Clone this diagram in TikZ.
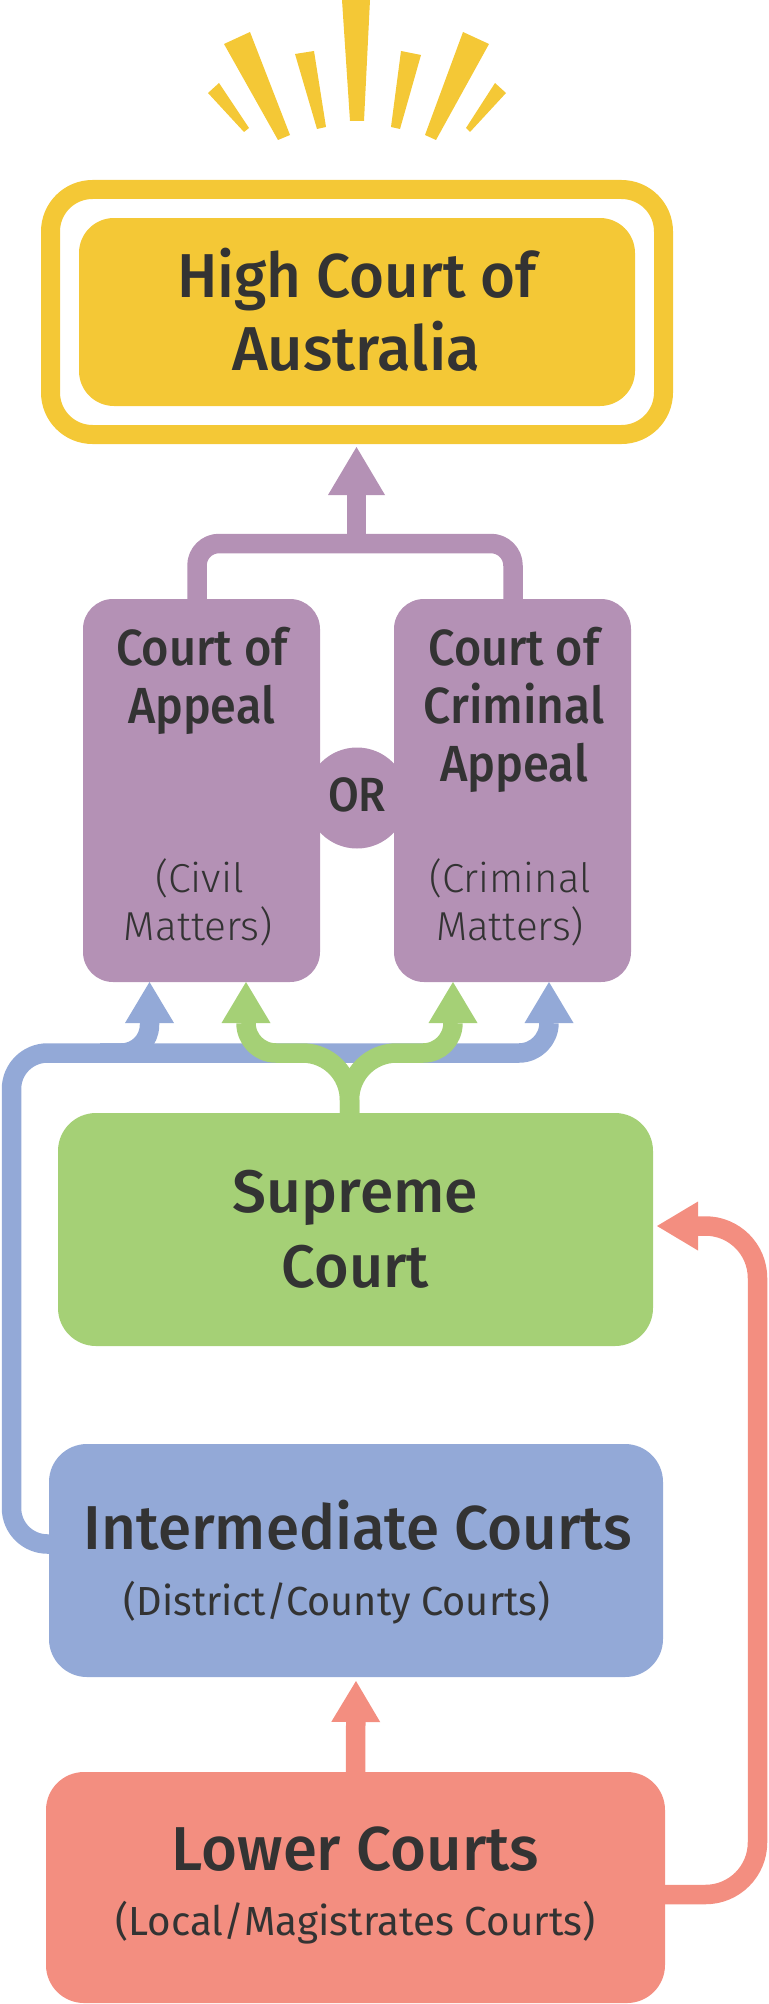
\documentclass[tikz,border=0pt]{standalone}
\usepackage{fontspec}
\usepackage{graphicx}
\setmainfont{Fira Sans}
\IfFontExistsTF{Fira Sans Medium}{\newfontfamily\medfont{Fira Sans Medium}}{\newcommand\medfont{\bfseries}}
\IfFontExistsTF{Fira Sans Light}{\newfontfamily\litefont{Fira Sans Light}}{\newcommand\litefont{\mdseries}}
\usetikzlibrary{arrows.meta,calc,fit}
\definecolor{cyel}{RGB}{244,200,54}
\definecolor{cpur}{RGB}{180,145,181}
\definecolor{cblu}{RGB}{147,169,215}
\definecolor{cgrn}{RGB}{165,208,118}
\definecolor{cred}{RGB}{243,142,128}
\definecolor{ink}{RGB}{51,51,51}
% stretch a text to a given width, keep its height
\newcommand\fitw[2]{\resizebox{#1pt}{\height}{#2}}
\begin{document}
\begin{tikzpicture}[x=1pt,y=-1pt, line join=round,
  box/.style={inner sep=0pt, outer sep=0pt, rounded corners=#1},
  link/.style={line width=19.5pt},
  pline/.style={link, draw=cpur}, bline/.style={link, draw=cblu},
  gline/.style={link, draw=cgrn}, rline/.style={link, draw=cred},
  headS/.style={-{Triangle[length=41pt,width=49pt,line width=0pt]}},
  headL/.style={-{Triangle[length=48pt,width=57pt,line width=0pt]}},
  lbl/.style={anchor=base, inner sep=0pt, text=ink},
  ttl/.style={lbl, font=\medfont\fontsize{62}{62}\selectfont},
  pttl/.style={lbl, font=\medfont\fontsize{50.8}{50.8}\selectfont},
  psub/.style={lbl, font=\litefont\fontsize{40.4}{40.4}\selectfont},
  sub/.style={lbl, font=\fontsize{40.6}{40.6}\selectfont}]
\useasboundingbox (0,0) rectangle (768,2004);
% rays
\fill[cyel] (208,93) -- (219,83) -- (249,128) -- (244,132) -- cycle;
\fill[cyel] (224,44) -- (250,32) -- (290,135) -- (278,140) -- cycle;
\fill[cyel] (295,54) -- (314,51) -- (326,127) -- (317,129) -- cycle;
\fill[cyel] (342,0) -- (370,0) -- (364,121) -- (350,121) -- cycle;
\fill[cyel] (401,51) -- (421,55) -- (400,129) -- (391,127) -- cycle;
\fill[cyel] (463,32) -- (489,44) -- (436,140) -- (425,135) -- cycle;
\fill[cyel] (495,83) -- (506,93) -- (470,132) -- (466,128) -- cycle;
% boxes
\node[box=35, fill=cyel, minimum width=556, minimum height=188] (high) at (357,312) {};
\node[draw=cyel, line width=19pt, fit=(high), inner sep=28.5pt, outer sep=9.5pt, rounded corners=42] (highring) {};
\node[box=30, fill=cpur, minimum width=237, minimum height=383] (civil) at (201.5,790.5) {};
\node[box=30, fill=cpur, minimum width=237, minimum height=383] (crim) at (512.5,790.5) {};
\node[circle, fill=cpur, inner sep=0pt, minimum size=101] (orc) at (357,798) {};
\node[box=38, fill=cgrn, minimum width=595, minimum height=233] (supreme) at (355.5,1229.5) {};
\node[box=38, fill=cblu, minimum width=614, minimum height=233] (inter) at (356,1560.5) {};
\node[box=38, fill=cred, minimum width=619, minimum height=231] (lower) at (355.5,1887.5) {};
% texts
\node[ttl] (hc1) at (357,297) {\fitw{359}{High Court of}};
\node[ttl] (hc2) at (356,370) {\fitw{248}{Australia}};
\node[pttl] (ca1) at (202,665) {\fitw{172}{Court of}};
\node[pttl] (ca2) at (201.5,723) {\fitw{147}{Appeal}};
\node[psub] (ca3) at (199.5,892) {\fitw{89}{(Civil}};
\node[psub] (ca4) at (198.5,940) {\fitw{149}{Matters)}};
\node[pttl] (cc1) at (514,665) {\fitw{171}{Court of}};
\node[pttl] (cc2) at (514,723) {\fitw{181}{Criminal}};
\node[pttl] (cc3) at (514,781) {\fitw{148}{Appeal}};
\node[psub] (cc4) at (510,892) {\fitw{161}{(Criminal}};
\node[psub] (cc5) at (510,940) {\fitw{148}{Matters)}};
\node[lbl, font=\medfont\fontsize{48}{48}\selectfont] (ortxt) at (357,811.5) {\fitw{58}{OR}};
\node[ttl, font=\medfont\fontsize{60}{60}\selectfont] (sc1) at (355.5,1212) {\fitw{245}{Supreme}};
\node[ttl, font=\medfont\fontsize{60}{60}\selectfont] (sc2) at (355.5,1287) {\fitw{147}{Court}};
\node[ttl] (ic1) at (358,1549) {\fitw{548}{Intermediate Courts}};
\node[sub] (ic2) at (337,1615) {\fitw{426}{(District/County Courts)}};
\node[ttl] (lc1) at (355.5,1870) {\fitw{367}{Lower Courts}};
\node[sub] (lc2) at (355.5,1935) {\fitw{480}{(Local/Magistrates Courts)}};
% appeal routes
\coordinate (pjoin) at (356.5,543.5);
\draw[pline, rounded corners=22] ($(civil.north)+(-4.5,0)$) |- (pjoin) -| ($(crim.north)+(0.5,0)$);
\draw[pline, headL, shorten >=3pt] (pjoin) -- (pjoin |- highring.south);
\coordinate (bbar) at (100,1053);
\draw[bline, rounded corners=36] ($(inter.west)+(0,-16.5)$) -| (11.5,1053) -- (130,1053);
\draw[bline, rounded corners=28, headS] (bbar) -| ($(civil.south)+(-52,0)$);
\draw[bline, rounded corners=30, headS] (bbar) -| ($(crim.south)+(36.5,0)$);
\coordinate (gstem) at ($(supreme.north)+(-6,0)$);
\draw[gline, headS] (gstem) -- (349.5,1100) .. controls (349.5,1074) and (328.5,1053) .. (302.5,1053) -- (276,1053)
  .. controls (259.4,1053) and (246,1039.6) .. (246,1023) -- ($(civil.south)+(44.5,0)$);
\draw[gline, headS] (gstem) -- (349.5,1100) .. controls (349.5,1074) and (370.5,1053) .. (396.5,1053) -- (423,1053)
  .. controls (439.6,1053) and (453,1039.6) .. (453,1023) -- ($(crim.south)+(-59.5,0)$);
\draw[rline, headS, shorten >=4pt] (lower.north) -- (inter.south);
\draw[rline, rounded corners=52, headS, shorten >=4pt] ($(lower.east)+(0,7)$) -| (757.5,1226) -- ($(supreme.east)+(0,-3.5)$);
\end{tikzpicture}
\end{document}
